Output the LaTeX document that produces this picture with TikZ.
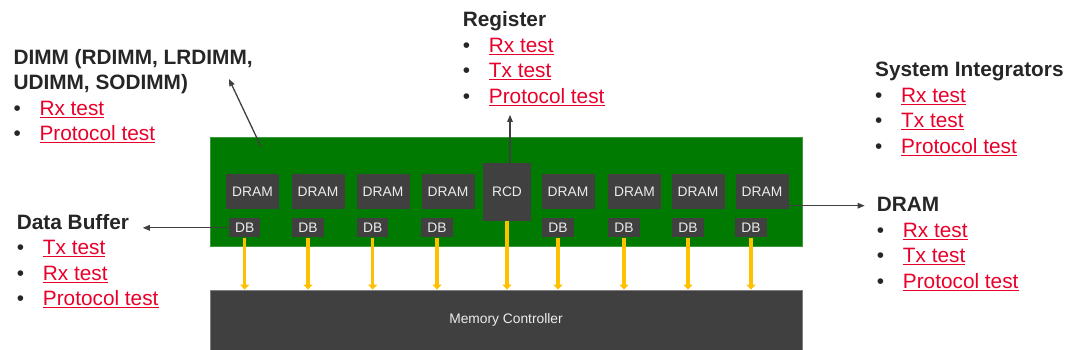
\documentclass[tikz,border=0pt]{standalone}
\usepackage{fontspec}
\setmainfont{Liberation Sans}
\usetikzlibrary{arrows.meta}
\definecolor{board}{HTML}{007A00}
\definecolor{boardedge}{HTML}{3C9A3C}
\definecolor{chip}{HTML}{404040}
\definecolor{chiptext}{HTML}{EDEDED}
\definecolor{bus}{HTML}{FFC000}
\definecolor{linkred}{HTML}{E8002A}
\definecolor{ink}{HTML}{262626}
\newcommand{\itm}[1]{\makebox[26pt][l]{\textbullet}\textcolor{linkred}{\underline{#1}}}
\newcommand{\blk}[1]{\begin{tabular}[t]{@{}l@{}}#1\end{tabular}}
\begin{document}
\begin{tikzpicture}[x=1pt,y=-1pt,
  lbl/.style={anchor=base west,inner sep=0pt,text=ink,font=\fontsize{20.8}{25.5}\selectfont},
  chipbox/.style={fill=chip,text=chiptext,inner sep=0pt,font=\fontsize{13.8}{16}\selectfont},
  dram/.style={chipbox,minimum width=53pt,minimum height=35pt},
  db/.style={chipbox,minimum width=31.5pt,minimum height=19pt},
  feed/.style={draw=bus,line width=3.5pt,-{Triangle[length=5pt,width=9pt]}},
  pointer/.style={draw=chip,line width=1.3pt,-{Triangle[length=7pt,width=5.5pt]}}]
\useasboundingbox (0,0) rectangle (1080,349);
\node[fill=board,draw=boardedge,line width=0.8pt,minimum width=592pt,minimum height=109pt,inner sep=0pt] (dimm) at (506,191.5) {};
\node[fill=chip,draw=gray,line width=0.8pt,minimum width=592pt,minimum height=60pt,inner sep=0pt,text=chiptext,font=\fontsize{13.8}{16}\selectfont] (mc) at (506,320) {Memory Controller};
\foreach \n/\x/\bx in {1/252.5/244.7,2/318/308,3/383/372.7,4/448/437,5/568/558,6/634.5/624,7/698/688,8/762/751}{
  \node[dram] (d\n) at (\x,191.7) {DRAM};
  \node[db] (db\n) at (\bx,227.8) {DB};
}
\node[chipbox,minimum width=48pt,minimum height=58pt] (rcd) at (507,191.7) {RCD};
% data and command lanes
\foreach \n in {1,...,8}
  \draw[feed] (db\n.south) -- (db\n.south |- mc.north);
\draw[feed] (rcd.south) -- (rcd.south |- mc.north);
% labels
\node[lbl] (dimmtxt) at (13.3,64.3) {\blk{\textbf{DIMM (RDIMM, LRDIMM,}\\ \textbf{UDIMM, SODIMM)}\\ \itm{Rx test}\\ \itm{Protocol test}}};
\node[lbl] (regtxt) at (462.7,26.7) {\blk{\textbf{Register}\\ \itm{Rx test}\\ \itm{Tx test}\\ \itm{Protocol test}}};
\node[lbl] (dbtxt) at (16.7,229.3) {\blk{\textbf{Data Buffer}\\ \itm{Tx test}\\ \itm{Rx test}\\ \itm{Protocol test}}};
\node[lbl] (sitxt) at (875,76.7) {\blk{\textbf{System Integrators}\\ \itm{Rx test}\\ \itm{Tx test}\\ \itm{Protocol test}}};
\node[lbl] (dramtxt) at (876.7,211.7) {\blk{\textbf{DRAM}\\ \itm{Rx test}\\ \itm{Tx test}\\ \itm{Protocol test}}};
% pointers
\coordinate (dimmfoot) at (261,146.7);
\coordinate (dimmtip) at (229,79);
\draw[pointer] (dimmfoot) -- (dimmtip);
\draw[pointer] ([xshift=3pt]rcd.north) -- ++(0,-47.7);
\draw[pointer] (db1.west) -- ++(-86,0);
\draw[pointer] ([yshift=-14pt]d8.east) -- ++(76,0);
\end{tikzpicture}
\end{document}
